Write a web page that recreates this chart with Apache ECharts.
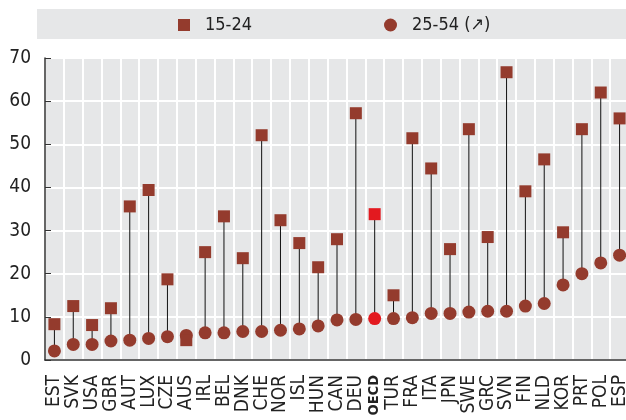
<!DOCTYPE html>
<html><head><meta charset="utf-8">
<script src="https://cdn.jsdelivr.net/npm/echarts@6/dist/echarts.min.js"></script>
<style>html,body{margin:0;padding:0;background:#fff}#c{width:626px;height:420px}</style>
</head><body><div id="c"></div>
<script>
const categories = ["EST","SVK","USA","GBR","AUT","LUX","CZE","AUS","IRL","BEL","DNK","CHE","NOR","ISL","HUN","CAN","DEU","OECD","TUR","FRA","ITA","JPN","SWE","GRC","SVN","FIN","NLD","KOR","PRT","POL","ESP"];
const youth = [8.3,12.5,8.1,12.0,35.6,39.4,18.7,4.6,25.0,33.3,23.6,52.1,32.4,27.1,21.5,28.0,57.2,33.8,15.0,51.4,44.4,25.7,53.5,28.5,66.7,39.1,46.5,29.6,53.5,62.0,56.0];
const prime = [2.1,3.6,3.6,4.4,4.6,5.0,5.4,5.7,6.3,6.3,6.6,6.6,6.9,7.2,7.9,9.3,9.4,9.6,9.6,9.8,10.8,10.8,11.1,11.3,11.3,12.5,13.1,17.4,20.0,22.5,24.3];
const yTicks = [0,10,20,30,40,50,60,70];
const seriesNames = ["15-24", "25-54 (\u2197)"];
const highlight = "OECD";

const FONT = "'Liberation Sans Narrow','DejaVu Sans Condensed','Liberation Sans',Arial,sans-serif";
const C1 = '#943b2d', CH = '#e3191f';

const sq = youth.map((v,i)=> categories[i]===highlight ? {value:v,itemStyle:{color:CH}} : v);
const ci = prime.map((v,i)=> categories[i]===highlight ? {value:v,itemStyle:{color:CH}} : v);
const seg = categories.map((c,i)=>[i, prime[i], youth[i]]);
const xData = categories.map(c => c===highlight ? {value:c, textStyle:{fontWeight:'bold', fontSize:14.5}} : c);

const legendText = {fontFamily:FONT, fontSize:18, color:'#222', padding:[0,0,0,10]};
const chart = echarts.init(document.getElementById('c'), null, {renderer:'canvas'});
chart.setOption({
  animation:false,
  graphic:[{type:'rect', z:-10, shape:{x:37,y:9,width:589,height:30}, style:{fill:'#e6e7e8'}}],
  legend:[
    {top:11, left:173, itemWidth:12, itemHeight:12, textStyle:legendText, data:[{name:seriesNames[0], icon:'rect'}]},
    {top:11, left:379, itemWidth:13, itemHeight:13, textStyle:legendText, data:[{name:seriesNames[1], icon:'circle'}]}
  ],
  grid:{left:45, top:58, width:584, height:302, show:true, backgroundColor:'#e6e7e8', borderWidth:0,
        containLabel:false, outerBoundsMode:'none'},
  xAxis:{
    type:'category', data:xData, boundaryGap:true,
    axisLine:{lineStyle:{color:'#333', width:1.5}},
    axisTick:{inside:true, length:6, lineStyle:{color:'#333'}},
    splitLine:{show:true, lineStyle:{color:'#fff', width:2}},
    axisLabel:{rotate:90, interval:0, margin:15, fontFamily:FONT, fontSize:19, color:'#222'}
  },
  yAxis:{
    type:'value', min:yTicks[0], max:yTicks[yTicks.length-1], interval:yTicks[1]-yTicks[0],
    axisLine:{show:true, lineStyle:{color:'#333', width:1.5}},
    axisTick:{show:true, inside:true, length:6, lineStyle:{color:'#333'}},
    splitLine:{show:true, lineStyle:{color:'#fff', width:2}},
    axisLabel:{margin:14, fontFamily:FONT, fontSize:19, color:'#222'}
  },
  series:[
    {type:'custom', silent:true, z:1, data:seg,
      renderItem:(params, api)=>{
        const p1 = api.coord([api.value(0), api.value(1)]);
        const p2 = api.coord([api.value(0), api.value(2)]);
        return {type:'line', shape:{x1:p1[0],y1:p1[1],x2:p2[0],y2:p2[1]}, style:{stroke:'#111', lineWidth:1}};
      }},
    {name:seriesNames[0], type:'scatter', symbol:'rect', symbolSize:12, z:3, itemStyle:{color:C1, opacity:1}, data:sq},
    {name:seriesNames[1], type:'scatter', symbol:'circle', symbolSize:13, z:2, itemStyle:{color:C1, opacity:1}, data:ci}
  ]
});
</script></body></html>
